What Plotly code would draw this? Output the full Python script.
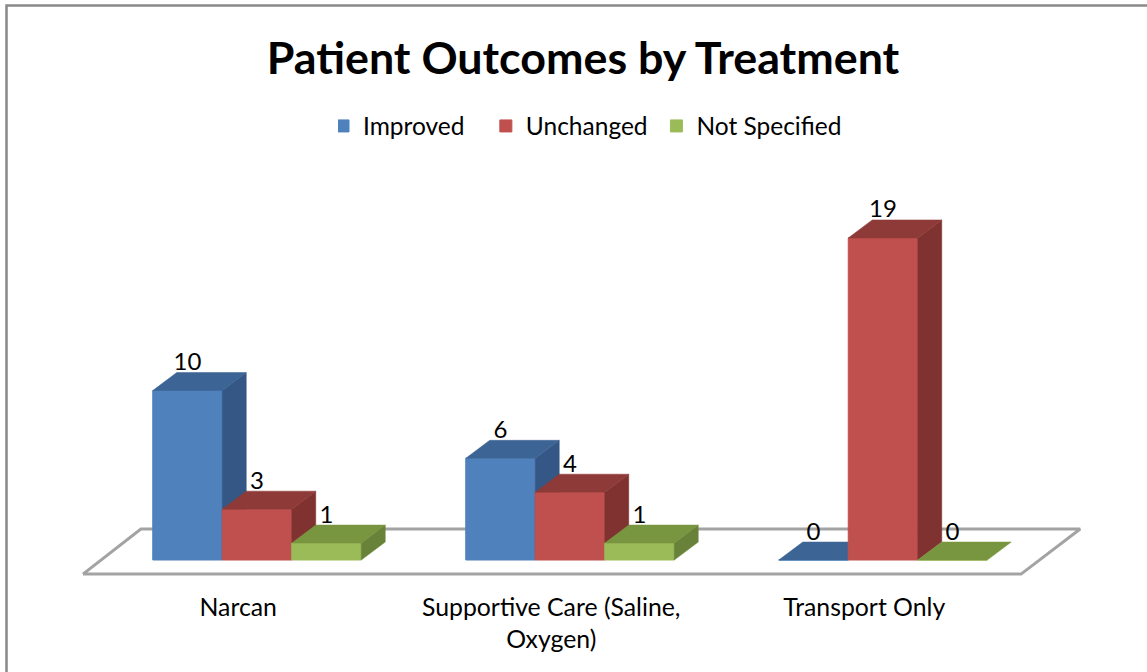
import plotly.graph_objects as go

categories = ["Narcan", "Supportive Care (Saline,<br>Oxygen)", "Transport Only"]
series_names = ["Improved", "Unchanged", "Not Specified"]
improved = [10, 6, 0]
unchanged = [3, 4, 19]
not_specified = [1, 1, 0]

front = ["#4F81BD", "#C0504D", "#9BBB59"]
top = ["#3C6494", "#8E3A38", "#78953F"]
side = ["#345785", "#7F3230", "#68823A"]
legend_pad = [5, 3, 0]

W, H, BOTTOM = 1147, 672, 82
PX_X, PX_Y = 313.0, 16.95      # pixels per x unit / per value unit
X0_PX, Y0_PX = 257.0, 560.0    # pixel of x=0 / y=0
BAR_W = 69.5 / PX_X
DX, DY = 24 / PX_X, 18 / PX_Y  # 3-D depth
FONT = "Lato"

xr = [-X0_PX / PX_X, (W - X0_PX) / PX_X]
yr = [-(H - BOTTOM - Y0_PX) / PX_Y, Y0_PX / PX_Y]

fig = go.Figure()
# floor
fig.add_trace(go.Scatter(x=[-0.556, 2.441, 2.63, -0.371, -0.556], y=[-0.83, -0.83, 1.83, 1.83, -0.83],
                         mode="lines", fill="toself", fillcolor="#FFFFFF",
                         line=dict(color="#A3A3A3", width=3), showlegend=False, hoverinfo="skip"))

all_vals = [improved, unchanged, not_specified]
for s, (name, vals) in enumerate(zip(series_names, all_vals)):
    ax = str(s + 2)
    xs = [i + (s - 1) * BAR_W for i in range(len(vals))]
    fig.add_trace(go.Bar(x=xs, y=vals, width=BAR_W, name=name + "&nbsp;" * legend_pad[s],
                         marker=dict(color=front[s], line=dict(color=front[s], width=1)),
                         xaxis="x" + ax, yaxis="y" + ax, hoverinfo="y"))
    tx, ty, sx, sy = [], [], [], []
    for x, v in zip(xs, vals):
        l, r = x - BAR_W / 2, x + BAR_W / 2
        tx += [l, r, r + DX, l + DX, l, None]
        ty += [v, v, v + DY, v + DY, v, None]
        if v > 0:
            sx += [r, r + DX, r + DX, r, r, None]
            sy += [0, DY, v + DY, v, 0, None]
    for px, py, c in ((sx, sy, side[s]), (tx, ty, top[s])):
        fig.add_trace(go.Scatter(x=px, y=py, mode="lines", fill="toself", fillcolor=c,
                                 line=dict(color=c, width=0.5), xaxis="x" + ax, yaxis="y" + ax,
                                 showlegend=False, hoverinfo="skip"))
    fig.add_trace(go.Scatter(x=xs, y=[v + DY + 0.5 for v in vals], text=[str(v) for v in vals],
                             mode="text", textposition="middle center",
                             textfont=dict(family=FONT, size=24, color="#000000"),
                             xaxis="x" + ax, yaxis="y" + ax, showlegend=False, hoverinfo="skip"))

fig.update_layout(
    width=W, height=H, autosize=False,
    margin=dict(l=0, r=0, t=0, b=BOTTOM, pad=0),
    paper_bgcolor="#FFFFFF", plot_bgcolor="rgba(0,0,0,0)",
    barmode="overlay",
    font=dict(family=FONT, color="#000000"),
    title=dict(text="<b>Patient Outcomes by Treatment</b>", font=dict(family=FONT, size=44.8, color="#000000"),
               x=583 / W, xref="paper", xanchor="center", y=1 - 58 / H, yref="container", yanchor="middle"),
    legend=dict(orientation="h", x=338 / W, xanchor="left", y=1 - 126 / (H - BOTTOM), yanchor="middle",
                font=dict(family=FONT, size=24.5, color="#000000"), indentation=-15,
                bgcolor="rgba(0,0,0,0)", traceorder="normal"),
    xaxis=dict(range=xr, tickmode="array", tickvals=[i - 0.06 for i in range(3)], ticktext=categories,
               showgrid=False, zeroline=False, showline=False, ticks="", automargin=False,
               tickfont=dict(family=FONT, size=24.8, color="#000000"), ticklabelstandoff=0, fixedrange=True),
    yaxis=dict(range=yr, visible=False, fixedrange=True),
    shapes=[dict(type="rect", xref="paper", yref="paper", x0=6.5 / W, x1=1.01, y0=-0.3, y1=1 - 5.5 / (H - BOTTOM),
                 line=dict(color="#898989", width=2.5), fillcolor="rgba(0,0,0,0)", layer="below")],
)
for n in ("2", "3", "4"):
    fig.update_layout({
        "xaxis" + n: dict(range=xr, overlaying="x", visible=False, fixedrange=True),
        "yaxis" + n: dict(range=yr, overlaying="y", visible=False, fixedrange=True),
    })

fig.write_html("out.html", post_script="document.body.style.margin='0';", config={"displayModeBar": False})
